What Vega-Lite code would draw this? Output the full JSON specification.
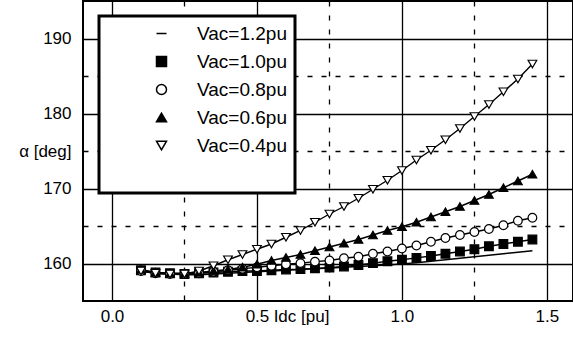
{
  "$schema": "https://vega.github.io/schema/vega-lite/v6.json",
  "autosize": "none",
  "padding": {"left": 83, "top": 1, "right": 0, "bottom": 41},
  "width": 490,
  "height": 300,
  "config": {
    "font": "Liberation Sans",
    "view": {"stroke": "black", "strokeWidth": 2},
    "legend": {"strokeWidth": 3},
    "axis": {"labelColor": "black", "labelFontSize": 17, "labelFont": "Liberation Sans", "titleColor": "black", "titleFont": "Liberation Sans", "titleFontSize": 17, "titleFontWeight": "normal", "gridColor": "black", "gridOpacity": 1}
  },
  "data": {"values": [
    {"Vac": "1.2", "I": 0.10, "a": 159.0}, {"Vac": "1.2", "I": 0.15, "a": 158.7}, {"Vac": "1.2", "I": 0.20, "a": 158.6}, {"Vac": "1.2", "I": 0.25, "a": 158.5},
    {"Vac": "1.2", "I": 0.30, "a": 158.5}, {"Vac": "1.2", "I": 0.35, "a": 158.6}, {"Vac": "1.2", "I": 0.40, "a": 158.7}, {"Vac": "1.2", "I": 0.45, "a": 158.8},
    {"Vac": "1.2", "I": 0.50, "a": 158.9}, {"Vac": "1.2", "I": 0.55, "a": 159.0}, {"Vac": "1.2", "I": 0.60, "a": 159.1}, {"Vac": "1.2", "I": 0.65, "a": 159.2},
    {"Vac": "1.2", "I": 0.70, "a": 159.3}, {"Vac": "1.2", "I": 0.75, "a": 159.4}, {"Vac": "1.2", "I": 0.80, "a": 159.5}, {"Vac": "1.2", "I": 0.85, "a": 159.6},
    {"Vac": "1.2", "I": 0.90, "a": 159.7}, {"Vac": "1.2", "I": 0.95, "a": 159.8}, {"Vac": "1.2", "I": 1.00, "a": 159.95}, {"Vac": "1.2", "I": 1.05, "a": 160.1},
    {"Vac": "1.2", "I": 1.10, "a": 160.3}, {"Vac": "1.2", "I": 1.15, "a": 160.5}, {"Vac": "1.2", "I": 1.20, "a": 160.7}, {"Vac": "1.2", "I": 1.25, "a": 160.9},
    {"Vac": "1.2", "I": 1.30, "a": 161.1}, {"Vac": "1.2", "I": 1.35, "a": 161.3}, {"Vac": "1.2", "I": 1.40, "a": 161.5}, {"Vac": "1.2", "I": 1.45, "a": 161.7},

    {"Vac": "1.0", "I": 0.10, "a": 159.1}, {"Vac": "1.0", "I": 0.15, "a": 158.8}, {"Vac": "1.0", "I": 0.20, "a": 158.7}, {"Vac": "1.0", "I": 0.25, "a": 158.6},
    {"Vac": "1.0", "I": 0.30, "a": 158.7}, {"Vac": "1.0", "I": 0.35, "a": 158.8}, {"Vac": "1.0", "I": 0.40, "a": 158.9}, {"Vac": "1.0", "I": 0.45, "a": 159.0},
    {"Vac": "1.0", "I": 0.50, "a": 159.0}, {"Vac": "1.0", "I": 0.55, "a": 159.1}, {"Vac": "1.0", "I": 0.60, "a": 159.2}, {"Vac": "1.0", "I": 0.65, "a": 159.25},
    {"Vac": "1.0", "I": 0.70, "a": 159.35}, {"Vac": "1.0", "I": 0.75, "a": 159.45}, {"Vac": "1.0", "I": 0.80, "a": 159.6}, {"Vac": "1.0", "I": 0.85, "a": 159.8},
    {"Vac": "1.0", "I": 0.90, "a": 160.05}, {"Vac": "1.0", "I": 0.95, "a": 160.3}, {"Vac": "1.0", "I": 1.00, "a": 160.5}, {"Vac": "1.0", "I": 1.05, "a": 160.75},
    {"Vac": "1.0", "I": 1.10, "a": 161.0}, {"Vac": "1.0", "I": 1.15, "a": 161.3}, {"Vac": "1.0", "I": 1.20, "a": 161.6}, {"Vac": "1.0", "I": 1.25, "a": 161.9},
    {"Vac": "1.0", "I": 1.30, "a": 162.3}, {"Vac": "1.0", "I": 1.35, "a": 162.6}, {"Vac": "1.0", "I": 1.40, "a": 162.9}, {"Vac": "1.0", "I": 1.45, "a": 163.2},

    {"Vac": "0.8", "I": 0.10, "a": 159.0}, {"Vac": "0.8", "I": 0.15, "a": 158.7}, {"Vac": "0.8", "I": 0.20, "a": 158.6}, {"Vac": "0.8", "I": 0.25, "a": 158.6},
    {"Vac": "0.8", "I": 0.30, "a": 158.7}, {"Vac": "0.8", "I": 0.35, "a": 158.9}, {"Vac": "0.8", "I": 0.40, "a": 159.1}, {"Vac": "0.8", "I": 0.45, "a": 159.3},
    {"Vac": "0.8", "I": 0.50, "a": 159.5}, {"Vac": "0.8", "I": 0.55, "a": 159.7}, {"Vac": "0.8", "I": 0.60, "a": 159.9}, {"Vac": "0.8", "I": 0.65, "a": 160.05},
    {"Vac": "0.8", "I": 0.70, "a": 160.25}, {"Vac": "0.8", "I": 0.75, "a": 160.4}, {"Vac": "0.8", "I": 0.80, "a": 160.7}, {"Vac": "0.8", "I": 0.85, "a": 160.9},
    {"Vac": "0.8", "I": 0.90, "a": 161.3}, {"Vac": "0.8", "I": 0.95, "a": 161.6}, {"Vac": "0.8", "I": 1.00, "a": 162.0}, {"Vac": "0.8", "I": 1.05, "a": 162.4},
    {"Vac": "0.8", "I": 1.10, "a": 162.9}, {"Vac": "0.8", "I": 1.15, "a": 163.4}, {"Vac": "0.8", "I": 1.20, "a": 163.8}, {"Vac": "0.8", "I": 1.25, "a": 164.2},
    {"Vac": "0.8", "I": 1.30, "a": 164.6}, {"Vac": "0.8", "I": 1.35, "a": 165.1}, {"Vac": "0.8", "I": 1.40, "a": 165.7}, {"Vac": "0.8", "I": 1.45, "a": 166.1},

    {"Vac": "0.6", "I": 0.10, "a": 159.2}, {"Vac": "0.6", "I": 0.15, "a": 158.8}, {"Vac": "0.6", "I": 0.20, "a": 158.7}, {"Vac": "0.6", "I": 0.25, "a": 158.7},
    {"Vac": "0.6", "I": 0.30, "a": 158.8}, {"Vac": "0.6", "I": 0.35, "a": 159.0}, {"Vac": "0.6", "I": 0.40, "a": 159.2}, {"Vac": "0.6", "I": 0.45, "a": 159.5},
    {"Vac": "0.6", "I": 0.50, "a": 159.9}, {"Vac": "0.6", "I": 0.55, "a": 160.4}, {"Vac": "0.6", "I": 0.60, "a": 160.8}, {"Vac": "0.6", "I": 0.65, "a": 161.2},
    {"Vac": "0.6", "I": 0.70, "a": 161.7}, {"Vac": "0.6", "I": 0.75, "a": 162.2}, {"Vac": "0.6", "I": 0.80, "a": 162.7}, {"Vac": "0.6", "I": 0.85, "a": 163.2},
    {"Vac": "0.6", "I": 0.90, "a": 163.8}, {"Vac": "0.6", "I": 0.95, "a": 164.4}, {"Vac": "0.6", "I": 1.00, "a": 164.9}, {"Vac": "0.6", "I": 1.05, "a": 165.5},
    {"Vac": "0.6", "I": 1.10, "a": 166.2}, {"Vac": "0.6", "I": 1.15, "a": 166.9}, {"Vac": "0.6", "I": 1.20, "a": 167.6}, {"Vac": "0.6", "I": 1.25, "a": 168.4},
    {"Vac": "0.6", "I": 1.30, "a": 169.2}, {"Vac": "0.6", "I": 1.35, "a": 170.1}, {"Vac": "0.6", "I": 1.40, "a": 171.0}, {"Vac": "0.6", "I": 1.45, "a": 171.9},

    {"Vac": "0.4", "I": 0.10, "a": 159.0}, {"Vac": "0.4", "I": 0.15, "a": 158.7}, {"Vac": "0.4", "I": 0.20, "a": 158.6}, {"Vac": "0.4", "I": 0.25, "a": 158.6},
    {"Vac": "0.4", "I": 0.30, "a": 159.0}, {"Vac": "0.4", "I": 0.35, "a": 159.7}, {"Vac": "0.4", "I": 0.40, "a": 160.5}, {"Vac": "0.4", "I": 0.45, "a": 161.2},
    {"Vac": "0.4", "I": 0.50, "a": 161.9}, {"Vac": "0.4", "I": 0.55, "a": 162.6}, {"Vac": "0.4", "I": 0.60, "a": 163.5}, {"Vac": "0.4", "I": 0.65, "a": 164.4},
    {"Vac": "0.4", "I": 0.70, "a": 165.5}, {"Vac": "0.4", "I": 0.75, "a": 166.6}, {"Vac": "0.4", "I": 0.80, "a": 167.6}, {"Vac": "0.4", "I": 0.85, "a": 168.7},
    {"Vac": "0.4", "I": 0.90, "a": 169.9}, {"Vac": "0.4", "I": 0.95, "a": 171.1}, {"Vac": "0.4", "I": 1.00, "a": 172.4}, {"Vac": "0.4", "I": 1.05, "a": 173.8},
    {"Vac": "0.4", "I": 1.10, "a": 175.1}, {"Vac": "0.4", "I": 1.15, "a": 176.5}, {"Vac": "0.4", "I": 1.20, "a": 178.0}, {"Vac": "0.4", "I": 1.25, "a": 179.6},
    {"Vac": "0.4", "I": 1.30, "a": 181.2}, {"Vac": "0.4", "I": 1.35, "a": 182.9}, {"Vac": "0.4", "I": 1.40, "a": 184.6}, {"Vac": "0.4", "I": 1.45, "a": 186.6}
  ]},
  "encoding": {
    "x": {"field": "I", "type": "quantitative",
      "scale": {"domain": [-0.1, 1.59], "nice": false, "zero": false},
      "axis": {"values": [0, 0.25, 0.5, 0.75, 1, 1.25, 1.5],
        "labelExpr": "(datum.value == 0.25 || datum.value == 0.75 || datum.value == 1.25) ? '' : format(datum.value, '.1f')",
        "ticks": false, "domain": false, "labelPadding": 7, "labelFlush": false,
        "grid": true,
        "gridDash": {"condition": {"test": "datum.value == 0.25 || datum.value == 0.75 || datum.value == 1.25", "value": [5, 9]}, "value": []},
        "gridWidth": 1.3,
        "title": "Idc [pu]", "titleX": 218, "titleY": 15, "titleBaseline": "middle", "titleAlign": "center", "titleAngle": 0}},
    "y": {"field": "a", "type": "quantitative",
      "scale": {"domain": [155, 195], "nice": false, "zero": false},
      "axis": {"values": [160, 165, 170, 175, 180, 185, 190],
        "labelExpr": "datum.value == 175 ? 'α [deg]' : (datum.value % 10 == 0 ? datum.label : '')",
        "ticks": false, "domain": false, "labelPadding": 12,
        "grid": true,
        "gridDash": {"condition": {"test": "datum.value % 10 == 5", "value": [5, 9]}, "value": []},
        "gridWidth": 1.3,
        "title": null}}
  },
  "layer": [
    {"mark": {"type": "line", "color": "black", "strokeWidth": 1.4},
     "encoding": {"detail": {"field": "Vac", "type": "nominal"}}},
    {"transform": [{"filter": "datum.Vac != '1.2'"}],
     "mark": {"type": "point", "filled": true, "stroke": "black", "strokeWidth": 1.2, "opacity": 1},
     "encoding": {
       "shape": {"field": "Vac", "type": "nominal",
         "scale": {"domain": ["1.2", "1.0", "0.8", "0.6", "0.4"], "range": ["stroke", "square", "circle", "triangle-up", "triangle-down"]},
         "legend": {
           "orient": "none", "legendX": 16, "legendY": 15,
           "title": " ", "titleOrient": "bottom", "titleFontSize": 20, "titlePadding": 9,
           "padding": 8, "rowPadding": 8,
           "symbolSize": 100, "symbolOffset": 45, "labelOffset": 26,
           "labelFontSize": 19, "labelFont": "Liberation Sans", "labelColor": "black",
           "labelExpr": "'Vac=' + datum.label + 'pu'",
           "fillColor": "white", "strokeColor": "black",
           "encode": {
             "symbols": {
               "fill": {"value": {"signal": "(datum.value == '1.0' || datum.value == '0.6') ? 'black' : 'white'"}},
               "stroke": {"value": "black"},
               "strokeWidth": {"value": 1.4},
               "opacity": {"value": 1}
             }
           }
         }},
       "fill": {"field": "Vac", "type": "nominal",
         "scale": {"domain": ["1.2", "1.0", "0.8", "0.6", "0.4"], "range": ["black", "black", "white", "black", "white"]},
         "legend": null},
       "size": {"value": 75}
     }}
  ]
}
